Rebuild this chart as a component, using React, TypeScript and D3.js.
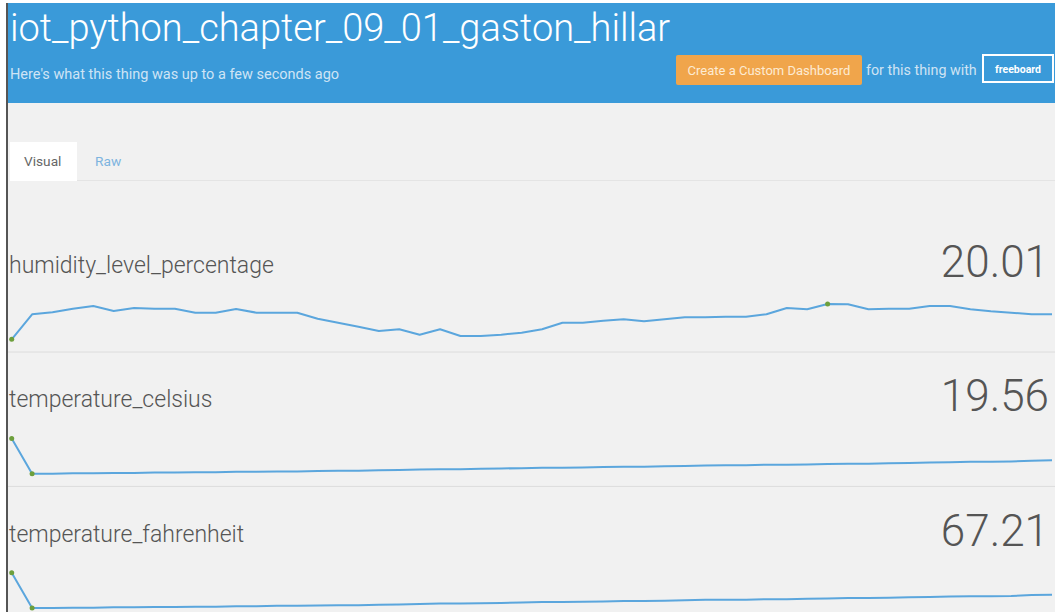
import React from "react";
import * as d3 from "d3";

const title = "iot_python_chapter_09_01_gaston_hillar";
const subtitle = "Here's what this thing was up to a few seconds ago";
const tabs = ["Visual", "Raw"];
const seriesNames = ["humidity_level_percentage", "temperature_celsius", "temperature_fahrenheit"];
const currentValues = ["20.01", "19.56", "67.21"];

const humidity = [
  17.51, 20.01, 20.21, 20.57, 20.84, 20.34, 20.64, 20.57, 20.57, 20.17,
  20.17, 20.54, 20.17, 20.17, 20.17, 19.57, 19.17, 18.77, 18.34, 18.51,
  17.97, 18.51, 17.84, 17.84, 17.97, 18.17, 18.51, 19.17, 19.17, 19.37,
  19.51, 19.31, 19.51, 19.71, 19.71, 19.77, 19.77, 20.01, 20.64, 20.51,
  21.04, 21.01, 20.51, 20.57, 20.57, 20.84, 20.84, 20.51, 20.31, 20.17,
  20.01, 20.01,
];

const celsius = [
  20.15, 19.2, 19.2, 19.21, 19.21, 19.22, 19.22, 19.23, 19.23, 19.24,
  19.24, 19.25, 19.25, 19.26, 19.26, 19.27, 19.28, 19.28, 19.29, 19.3,
  19.31, 19.32, 19.32, 19.33, 19.34, 19.35, 19.36, 19.36, 19.37, 19.38,
  19.39, 19.39, 19.4, 19.41, 19.42, 19.43, 19.43, 19.44, 19.44, 19.45,
  19.46, 19.47, 19.47, 19.48, 19.49, 19.5, 19.51, 19.52, 19.52, 19.53,
  19.55, 19.56,
];

const fahrenheit = [
  68.27, 66.56, 66.56, 66.58, 66.58, 66.6, 66.6, 66.61, 66.61, 66.63,
  66.63, 66.65, 66.65, 66.67, 66.67, 66.69, 66.7, 66.7, 66.72, 66.74,
  66.76, 66.78, 66.78, 66.79, 66.81, 66.83, 66.85, 66.85, 66.87, 66.88,
  66.9, 66.9, 66.92, 66.94, 66.96, 66.97, 66.97, 66.99, 66.99, 67.01,
  67.03, 67.05, 67.05, 67.06, 67.08, 67.1, 67.12, 67.14, 67.14, 67.15,
  67.19, 67.21,
];

const allSeries = [humidity, celsius, fahrenheit];

const W = 1055;
const H = 612;
const FONT = "Roboto, 'Open Sans', sans-serif";

export default function App() {
  const x = d3.scaleLinear().domain([0, humidity.length - 1]).range([11.7, 1052]);
  const sectionStep = 134.4;

  return (
    <svg
      width={W}
      height={H}
      style={{ position: "absolute", left: 0, top: 0, display: "block" }}
      fontFamily={FONT}
    >
      <rect x={0} y={0} width={W} height={H} fill="#ffffff" />
      <rect x={8} y={3} width={W - 8} height={H - 3} fill="#f1f1f1" />
      {/* header */}
      <rect x={8} y={3} width={W - 8} height={100} fill="#3a9ad9" />
      <rect x={6} y={3} width={2} height={H - 3} fill="#555555" />
      <text x={10} y={41} fill="#ffffff" fontSize={38} fontWeight={300}>
        {title}
      </text>
      <text x={10} y={79} fill="#cfe4f5" fontSize={14.5} fontWeight={400}>
        {subtitle}
      </text>
      <rect x={676} y={55} width={186} height={30} rx={2} fill="#f0a54b" />
      <text x={769} y={74.5} fill="#fdebd3" fontSize={13} textAnchor="middle">
        Create a Custom Dashboard
      </text>
      <text x={866} y={74.5} fill="#cfe3f3" fontSize={14.3}>
        for this thing with
      </text>
      <rect x={983} y={55} width={70} height={27} fill="none" stroke="#ffffff" strokeWidth={2} />
      <text x={1018} y={73} fill="#ffffff" fontSize={10.5} fontWeight={700} textAnchor="middle">
        freeboard
      </text>

      {/* tabs */}
      <rect x={10} y={142} width={67} height={39} fill="#ffffff" />
      <line x1={77} x2={W} y1={180.5} y2={180.5} stroke="#e4e4e4" strokeWidth={1} />
      <text x={24} y={166} fill="#666666" fontSize={13.7}>
        {tabs[0]}
      </text>
      <text x={95} y={166} fill="#7db4df" fontSize={13.7}>
        {tabs[1]}
      </text>

      {allSeries.map((vals, si) => {
        const off = si * sectionStep;
        const ext = d3.extent(vals) as [number, number];
        const y = d3.scaleLinear().domain(ext).range([339.3 + off, 304 + off]);
        const line = d3
          .line<number>()
          .x((_, i) => x(i))
          .y((d) => y(d));
        const iMin = d3.minIndex(vals);
        const iMax = d3.maxIndex(vals);
        return (
          <g key={si}>
            <text x={9} y={273 + off} fill="#555555" fontSize={23} fontWeight={300}>
              {seriesNames[si]}
            </text>
            <text x={1049} y={277 + off} fill="#555555" fontSize={44} fontWeight={300} textAnchor="end">
              {currentValues[si]}
            </text>
            <path d={line(vals) || ""} fill="none" stroke="#5ba6dd" strokeWidth={2} strokeLinejoin="round" />
            {[iMin, iMax].map((idx) => (
              <circle key={idx} cx={x(idx)} cy={y(vals[idx])} r={2.5} fill="#6d9f3c" />
            ))}
            {si < 2 && (
              <line x1={8} x2={W} y1={352 + off} y2={352 + off} stroke="#dcdcdc" strokeWidth={1} />
            )}
          </g>
        );
      })}
    </svg>
  );
}
